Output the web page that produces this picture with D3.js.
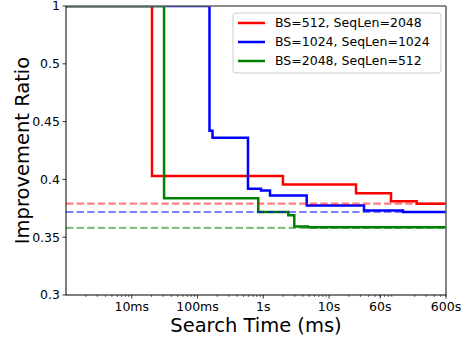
<!DOCTYPE html>
<html>
<head>
<meta charset="utf-8">
<script src="https://cdn.jsdelivr.net/npm/d3@7"></script>
<style>
  body { margin: 0; background: #fff; }
  text { font-family: "DejaVu Sans", sans-serif; }
</style>
</head>
<body>
<svg id="chart" width="464" height="337"></svg>
<script>
// search time in ms, improvement ratio after each step
var redTimes = [1, 20.3, 1990, 25700, 87400, 215000, 600000];
var redValues = [1, 0.403, 0.3955, 0.388, 0.381, 0.379, 0.379];
var blueTimes = [1, 152, 169, 585, 923, 1265, 4570, 34000, 133000, 600000];
var blueValues = [1, 0.442, 0.436, 0.392, 0.3905, 0.386, 0.3775, 0.373, 0.3718, 0.3718];
var greenTimes = [1, 31, 839, 2400, 2960, 4790, 600000];
var greenValues = [1, 0.3836, 0.3718, 0.369, 0.3593, 0.3585, 0.3585];
var baselines = [0.379, 0.3718, 0.358];
var seriesNames = ['BS=512, SeqLen=2048', 'BS=1024, SeqLen=1024', 'BS=2048, SeqLen=512'];
var seriesColors = ['#ff0000', '#0000ff', '#008000'];
var xTickValues = [10, 100, 1000, 10000, 60000, 600000];
var xTickLabels = ['10ms', '100ms', '1s', '10s', '60s', '600s'];
var yTickValues = [0.3, 0.35, 0.4, 0.45, 0.5, 0.55];
var yTickLabels = ['0.3', '0.35', '0.4', '0.45', '0.5', '1'];

var plotLeft = 66, plotRight = 446, plotTop = 6, plotBottom = 295;
var svg = d3.select('#chart');

var x = d3.scaleLog().domain([1, 600000]).range([plotLeft, plotRight]);
var y = d3.scaleLinear().domain([0.3, 0.55]).range([plotBottom, plotTop]).clamp(true);

svg.append('clipPath').attr('id', 'plot-clip')
  .append('rect')
    .attr('x', plotLeft).attr('y', plotTop)
    .attr('width', plotRight - plotLeft).attr('height', plotBottom - plotTop);

var series = [
  {times: redTimes, values: redValues},
  {times: blueTimes, values: blueValues},
  {times: greenTimes, values: greenValues}
];

var line = d3.line()
  .x(function(d) { return x(d[0]); })
  .y(function(d) { return y(d[1]); })
  .curve(d3.curveStepAfter);

var plot = svg.append('g').attr('clip-path', 'url(#plot-clip)');

series.forEach(function(s, i) {
  plot.append('path')
    .datum(d3.zip(s.times, s.values))
    .attr('d', line)
    .attr('fill', 'none')
    .attr('stroke', seriesColors[i])
    .attr('stroke-width', 2.5);
});

plot.selectAll('.baseline').data(baselines).enter().append('line')
  .attr('class', 'baseline')
  .attr('x1', plotLeft).attr('x2', plotRight)
  .attr('y1', function(d) { return y(d); })
  .attr('y2', function(d) { return y(d); })
  .attr('stroke', function(d, i) { return seriesColors[i]; })
  .attr('stroke-opacity', 0.5)
  .attr('stroke-width', 2.2)
  .attr('stroke-dasharray', '7.4,3.2');

// x axis
var xAxis = svg.append('g').attr('transform', 'translate(0,' + plotBottom + ')');
var minorTicks = [];
for (var p = 1; p <= 100000; p *= 10) {
  for (var k = 2; k <= 9; k++) {
    if (p * k <= 600000) minorTicks.push(p * k);
  }
}
xAxis.selectAll('.minor').data(minorTicks).enter().append('line')
  .attr('x1', x).attr('x2', x)
  .attr('y1', 0).attr('y2', 2)
  .attr('stroke', '#000').attr('stroke-width', 0.6);
xAxis.selectAll('.major').data(xTickValues).enter().append('line')
  .attr('x1', x).attr('x2', x)
  .attr('y1', 0).attr('y2', 3.5)
  .attr('stroke', '#000').attr('stroke-width', 0.8);
xAxis.selectAll('.xlabel').data(xTickValues).enter().append('text')
  .attr('x', x).attr('y', 15.5)
  .attr('text-anchor', 'middle')
  .attr('font-size', 12.5)
  .text(function(d, i) { return xTickLabels[i]; });

// y axis
var yAxis = svg.append('g').attr('transform', 'translate(' + plotLeft + ',0)');
yAxis.selectAll('.ytick').data(yTickValues).enter().append('line')
  .attr('x1', -3.5).attr('x2', 0)
  .attr('y1', y).attr('y2', y)
  .attr('stroke', '#000').attr('stroke-width', 0.8);
yAxis.selectAll('.ylabel').data(yTickValues).enter().append('text')
  .attr('x', -6).attr('y', y)
  .attr('dy', '0.35em')
  .attr('text-anchor', 'end')
  .attr('font-size', 12.5)
  .text(function(d, i) { return yTickLabels[i]; });

// spines
svg.append('line').attr('x1', plotLeft).attr('x2', plotRight).attr('y1', plotTop).attr('y2', plotTop)
  .attr('stroke', '#666').attr('stroke-width', 1.6);
svg.append('line').attr('x1', plotRight).attr('x2', plotRight).attr('y1', plotTop).attr('y2', plotBottom)
  .attr('stroke', '#666').attr('stroke-width', 1.6);
svg.append('line').attr('x1', plotLeft).attr('x2', plotLeft).attr('y1', plotTop).attr('y2', plotBottom)
  .attr('stroke', '#000').attr('stroke-width', 1);
svg.append('line').attr('x1', plotLeft).attr('x2', plotRight).attr('y1', plotBottom).attr('y2', plotBottom)
  .attr('stroke', '#000').attr('stroke-width', 1);

// axis titles
svg.append('text')
  .attr('x', (plotLeft + plotRight) / 2).attr('y', 331.5)
  .attr('text-anchor', 'middle')
  .attr('font-size', 19.5)
  .text('Search Time (ms)');
svg.append('text')
  .attr('transform', 'translate(29,' + ((plotTop + plotBottom) / 2) + ') rotate(-90)')
  .attr('text-anchor', 'middle')
  .attr('font-size', 19.5)
  .text('Improvement Ratio');

// legend
var legend = svg.append('g').attr('transform', 'translate(233,13)');
legend.append('rect')
  .attr('width', 208).attr('height', 60)
  .attr('rx', 3)
  .attr('fill', '#fff').attr('fill-opacity', 0.8)
  .attr('stroke', '#ccc').attr('stroke-width', 1);
var rows = legend.selectAll('.entry').data(seriesNames).enter().append('g')
  .attr('transform', function(d, i) { return 'translate(0,' + (10 + i * 19) + ')'; });
rows.append('line')
  .attr('x1', 5).attr('x2', 32)
  .attr('stroke', function(d, i) { return seriesColors[i]; })
  .attr('stroke-width', 2.5);
rows.append('text')
  .attr('x', 42).attr('dy', '0.35em')
  .attr('font-size', 12.5)
  .text(function(d) { return d; });
</script>
</body>
</html>
